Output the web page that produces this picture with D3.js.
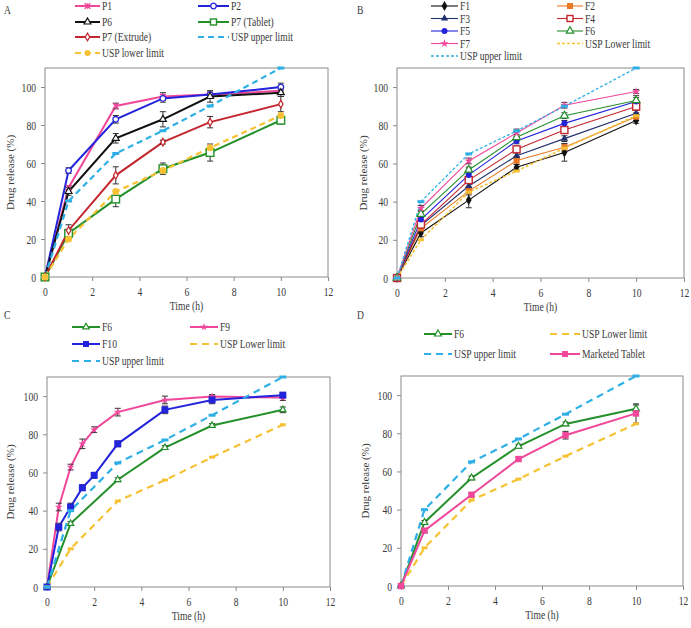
<!DOCTYPE html>
<html><head><meta charset="utf-8">
<script src="https://cdn.jsdelivr.net/npm/d3@7"></script>
<style>
body{margin:0;background:#fff}
svg{display:block}
text{font-family:"Liberation Serif","Times New Roman",serif;fill:#3a3a3a;font-weight:normal}
</style>
</head><body>
<svg id="chart" width="691" height="628"></svg>
<script>
// ---------- DATA ----------
const timeStd = [0, 1, 3, 5, 7, 10];
const timeC = [0, 0.5, 1, 1.5, 2, 3, 5, 7, 10];
const xTicks = [0, 2, 4, 6, 8, 10, 12];
const yTicks = [0, 20, 40, 60, 80, 100];
const uspUpper = [0, 40, 65, 77, 90, 110];
const uspLower = [0, 20, 45, 56, 68, 85];

// Panel A
const p1 = [0, 47, 90, 95, 96, 98];        const p1Err = [0, 1, 1.5, 2, 1, 1];
const p2 = [0, 56, 83, 94, 96, 100];       const p2Err = [0, 1.5, 2, 2, 2, 2];
const p6 = [0, 45, 73, 83, 95, 97];        const p6Err = [0, 2, 2.5, 4, 3, 2];
const p7Tab = [0, 23, 41, 57, 65.5, 82.5]; const p7TabErr = [0, 2, 4, 3, 4.5, 2];
const p7Ext = [0, 24.5, 53.5, 71, 81.5, 91]; const p7ExtErr = [0, 3, 4.5, 1, 3, 4];

// Panel B
const f1 = [0, 23.6, 40.8, 58, 65.7, 82.5]; const f1Err = [0, 2, 4, 1.5, 4.5, 1.5];
const f2 = [0, 26, 45.5, 61.5, 68.5, 84.5]; const f2Err = [0, 1.5, 2, 2, 2, 2];
const f3 = [0, 27.5, 48.2, 64, 73, 86.3];   const f3Err = [0, 1.5, 1.5, 1.5, 1.5, 1.5];
const f4 = [0, 28, 51.3, 67.4, 77.5, 89.8]; const f4Err = [0, 1.5, 1.5, 1.5, 1.5, 2];
const f5 = [0, 30.6, 54, 71.8, 81, 92.5];   const f5Err = [0, 1.5, 1.5, 1.5, 1.5, 3];
const f6B = [0, 33.5, 56.6, 73.7, 85, 93];  const f6BErr = [0, 1.5, 1.5, 1.5, 1.5, 1.5];
const f7 = [0, 36.5, 61.3, 76, 90.5, 97.7]; const f7Err = [0, 1.5, 1.5, 2, 1.5, 1];

// Panel C
const f9 = [0, 41.9, 62.8, 75, 82.4, 91.6, 98, 99.8, 99.2];   const f9Err = [0, 2, 1.5, 2.5, 1.5, 2, 2, 1, 1.5];
const f10 = [0, 31.4, 41.9, 52, 58.5, 75, 92.8, 98, 100.5];  const f10Err = [0, 2, 2, 1.5, 1.5, 1.5, 2, 2, 1];
const f6C = [0, 33.2, 56.2, 73, 84.6, 92.8];                  const f6CErr = [0, 1, 1, 1, 1, 1.5];

// Panel D
const f6D = [0, 33.3, 56.6, 73.2, 84.9, 92.8];  const f6DErr = [0, 1, 1, 1, 1, 2];
const market = [0, 29, 47.8, 66.5, 79, 90.4];   const marketErr = [0, 1, 1, 1, 2, 5];

// ---------- STYLE / LAYOUT ----------
const PINK = "#f0479b", BLUE = "#2323dc", GREEN = "#23902a", RED = "#c3262e",
      SKY = "#2eb0e6", YEL = "#f6c233", ORANGE = "#ec7a24", NAVY = "#22316e", BLK = "#111";

const panels = [
  { letter: "A", lx: 4, ly: 14, box: [45, 68, 328, 277], ylabX: 10,
    legend: { cols: [[75, 100], [198, 229]], rows: [6, 22, 37, 53] },
    series: [
      { name: "P1", x: timeStd, y: p1, err: p1Err, color: PINK, w: 2, mk: "x", ms: 2.8 },
      { name: "P2", x: timeStd, y: p2, err: p2Err, color: BLUE, w: 2, mk: "circleOpen", ms: 2.8 },
      { name: "P6", x: timeStd, y: p6, err: p6Err, color: BLK, w: 2, mk: "triOpen", ms: 2.8 },
      { name: "P7 (Tablet)", x: timeStd, y: p7Tab, err: p7TabErr, color: GREEN, w: 2, mk: "squareOpen", ms: 3.8 },
      { name: "P7 (Extrude)", x: timeStd, y: p7Ext, err: p7ExtErr, color: RED, w: 2, mk: "diamondOpen", ms: 2.4 },
      { name: "USP upper limit", x: timeStd, y: uspUpper, color: SKY, w: 2.2, dash: "6,4", mk: "dash", ms: 3.5 },
      { name: "USP lower limit", x: timeStd, y: uspLower, color: YEL, w: 2.2, dash: "6,4", mk: "circleFill", ms: 3.5 }
    ]},
  { letter: "B", lx: 357, ly: 14, box: [397, 68, 684, 278], ylabX: 363,
    legend: { cols: [[431, 458], [557, 583]], rows: [6, 18.5, 31, 43.5, 56] },
    series: [
      { name: "F1", x: timeStd, y: f1, err: f1Err, color: BLK, w: 1.1, mk: "diamondFill", ms: 3 },
      { name: "F2", x: timeStd, y: f2, err: f2Err, color: ORANGE, w: 1.1, mk: "squareFill", ms: 3 },
      { name: "F3", x: timeStd, y: f3, err: f3Err, color: NAVY, w: 1.1, mk: "triFill", ms: 3 },
      { name: "F4", x: timeStd, y: f4, err: f4Err, color: RED, w: 1.1, mk: "squareOpen", ms: 3.5 },
      { name: "F5", x: timeStd, y: f5, err: f5Err, color: BLUE, w: 1.1, mk: "circleFill", ms: 3 },
      { name: "F6", x: timeStd, y: f6B, err: f6BErr, color: GREEN, w: 1.1, mk: "triOpen", ms: 3.2 },
      { name: "F7", x: timeStd, y: f7, err: f7Err, color: PINK, w: 1.1, mk: "star", ms: 3 },
      { name: "USP Lower limit", x: timeStd, y: uspLower, color: YEL, w: 1.6, dash: "3,2", mk: "dash", ms: 3 },
      { name: "USP upper limit", x: timeStd, y: uspUpper, color: SKY, w: 1.3, dash: "3,2", mk: "dash", ms: 3.5 }
    ]},
  { letter: "C", lx: 4, ly: 319, box: [47, 377, 330, 587], ylabX: 10,
    legend: { cols: [[72, 100], [190, 218]], rows: [327, 344, 361] },
    series: [
      { name: "F6", x: timeStd, y: f6C, err: f6CErr, color: GREEN, w: 2, mk: "triOpen", ms: 2.6 },
      { name: "F9", x: timeC, y: f9, err: f9Err, color: PINK, w: 2, mk: "star", ms: 2.8 },
      { name: "F10", x: timeC, y: f10, err: f10Err, color: BLUE, w: 2, mk: "squareFill", ms: 3.5 },
      { name: "USP Lower limit", x: timeStd, y: uspLower, color: YEL, w: 2.2, dash: "7,5", mk: "dash", ms: 3 },
      { name: "USP upper limit", x: timeStd, y: uspUpper, color: SKY, w: 2.2, dash: "7,5", mk: "dash", ms: 3.5 }
    ]},
  { letter: "D", lx: 357, ly: 319, box: [401, 376, 683, 586], ylabX: 365,
    legend: { cols: [[424, 452], [550, 580]], rows: [334, 354] },
    series: [
      { name: "F6", x: timeStd, y: f6D, err: f6DErr, color: GREEN, w: 2, mk: "triOpen", ms: 2.8 },
      { name: "USP Lower limit", x: timeStd, y: uspLower, color: YEL, w: 2.2, dash: "7,5", mk: "dash", ms: 3 },
      { name: "USP upper limit", x: timeStd, y: uspUpper, color: SKY, w: 2.2, dash: "7,5", mk: "dash", ms: 3.5 },
      { name: "Marketed Tablet", x: timeStd, y: market, err: marketErr, color: PINK, w: 2, mk: "squareFill", ms: 3.2 }
    ]}
];

const SX = 0.8; // horizontal squeeze of the original's lettering
const svg = d3.select("#chart");

function sText(g, x, y, str, size, anchor) {
  const t = g.append("g").attr("transform", `translate(${x},${y}) scale(${SX},1)`);
  return t.append("text").attr("font-size", size).attr("text-anchor", anchor || "start").text(str);
}

function marker(g, type, cx, cy, color, s) {
  const sym = (t, area) => d3.symbol().type(t).size(area)();
  const m = g.append("g").attr("transform", `translate(${cx},${cy})`);
  switch (type) {
    case "circleOpen": m.append("circle").attr("r", s).attr("fill", "#fff").attr("stroke", color).attr("stroke-width", 1.3); break;
    case "circleFill": m.append("circle").attr("r", s).attr("fill", color); break;
    case "squareOpen": m.append("rect").attr("x", -s).attr("y", -s).attr("width", 2 * s).attr("height", 2 * s)
      .attr("fill", "#fff").attr("stroke", color).attr("stroke-width", 1.4); break;
    case "squareFill": m.append("rect").attr("x", -s).attr("y", -s).attr("width", 2 * s).attr("height", 2 * s).attr("fill", color); break;
    case "triOpen": m.append("path").attr("d", sym(d3.symbolTriangle, s * s * 2.6)).attr("fill", "#fff").attr("stroke", color).attr("stroke-width", 1.2); break;
    case "triFill": m.append("path").attr("d", sym(d3.symbolTriangle, s * s * 2.6)).attr("fill", color); break;
    case "diamondOpen": m.append("path").attr("d", sym(d3.symbolDiamond, s * s * 3)).attr("fill", "#fff").attr("stroke", color).attr("stroke-width", 1.2); break;
    case "diamondFill": m.append("path").attr("d", sym(d3.symbolDiamond, s * s * 3.2)).attr("fill", color); break;
    case "star": m.append("path").attr("d", sym(d3.symbolStar, s * s * 2.4)).attr("fill", color); break;
    case "x":
      m.append("path").attr("d", `M${-s},${-s}L${s},${s}M${-s},${s}L${s},${-s}M0,${-s}L0,${s}`)
        .attr("stroke", color).attr("stroke-width", 1.3); break;
    case "dash": m.append("rect").attr("x", -s).attr("y", -1.5).attr("width", 2 * s).attr("height", 3).attr("fill", color); break;
  }
}

panels.forEach(p => {
  const [L, T, R, B] = p.box;
  const x = d3.scaleLinear().domain([0, 12]).range([L, R]);
  const y = d3.scaleLinear().domain([0, 110]).range([B, T]);
  const g = svg.append("g");

  // frame
  g.append("rect").attr("x", L).attr("y", T).attr("width", R - L).attr("height", B - T)
    .attr("fill", "none").attr("stroke", "#8a8a8a").attr("stroke-width", 1);

  // axes
  const ax = g.append("g").attr("transform", `translate(0,${B})`)
    .call(d3.axisBottom(x).tickValues(xTicks).tickSize(4).tickPadding(0).tickFormat(d3.format("d")));
  const ay = g.append("g").attr("transform", `translate(${L},0)`)
    .call(d3.axisLeft(y).tickValues(yTicks).tickSize(4).tickPadding(0).tickFormat(d3.format("d")));
  [ax, ay].forEach(a => {
    a.select(".domain").remove();
    a.selectAll(".tick line").attr("stroke", "#8a8a8a");
    a.selectAll(".tick text").remove();
  });
  ax.selectAll(".tick").each(function (d) {
    sText(d3.select(this), 0, 19, String(d), 12, "middle");
  });
  ay.selectAll(".tick").each(function (d) {
    sText(d3.select(this), -9, 4, String(d), 12, "end");
  });

  // axis titles
  sText(g, (L + R) / 2, B + 33, "Time (h)", 12, "middle");
  g.append("text").attr("transform", `translate(${p.ylabX + 4},${(T + B) / 2}) rotate(-90)`)
    .attr("font-size", 11).attr("text-anchor", "middle").text("Drug  release (%)");

  // panel letter
  sText(g, p.lx, p.ly, p.letter, 12, "start");

  // series
  const line = d3.line().x(d => x(d[0])).y(d => y(d[1]));
  p.series.forEach(s => {
    const pts = s.x.map((t, i) => [t, s.y[i]]);
    g.append("path").datum(pts).attr("d", line).attr("fill", "none")
      .attr("stroke", s.color).attr("stroke-width", s.w)
      .attr("stroke-dasharray", s.dash || null);
  });
  p.series.forEach(s => {
    if (!s.err) return;
    s.x.forEach((t, i) => {
      const e = s.err[i];
      if (!e) return;
      const cx = x(t), y1 = y(s.y[i] + e), y2 = y(s.y[i] - e);
      g.append("path").attr("d", `M${cx},${y1}V${y2}M${cx - 3},${y1}H${cx + 3}M${cx - 3},${y2}H${cx + 3}`)
        .attr("stroke", "#333").attr("stroke-width", 1).attr("fill", "none");
    });
  });
  p.series.forEach(s => {
    s.x.forEach((t, i) => marker(g, s.mk, x(t), y(s.y[i]), s.color, s.ms));
  });

  // legend
  const lg = p.legend;
  p.series.forEach((s, i) => {
    const row = Math.floor(i / 2), col = i % 2;
    const [x1, x2] = lg.cols[col];
    const yy = lg.rows[row];
    g.append("line").attr("x1", x1).attr("x2", x2).attr("y1", yy).attr("y2", yy)
      .attr("stroke", s.color).attr("stroke-width", s.w)
      .attr("stroke-dasharray", s.dash || null);
    const showMarker = !s.dash || (p.letter === "A" && s.mk !== "dash");
    if (showMarker) marker(g, s.mk, (x1 + x2) / 2, yy, s.color, Math.min(s.ms, 3));
    sText(g, x2 + 2, yy + 4, s.name, 12, "start");
  });
});
</script>
</body></html>
